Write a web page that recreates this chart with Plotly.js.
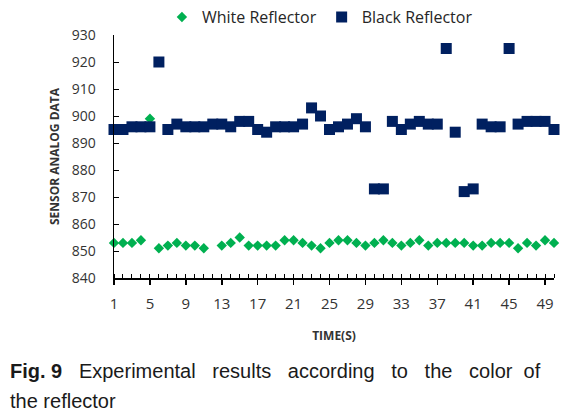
<!DOCTYPE html>
<html>
<head>
<meta charset="utf-8">
<script src="https://cdn.plot.ly/plotly-3.0.1.min.js"></script>
<style>html,body{margin:0;padding:0;background:#fff;}#chart{width:580px;height:417px;}</style>
</head>
<body>
<div id="chart"></div>
<script>
var timeSec = [1,2,3,4,5,6,7,8,9,10,11,12,13,14,15,16,17,18,19,20,21,22,23,24,25,26,27,28,29,30,31,32,33,34,35,36,37,38,39,40,41,42,43,44,45,46,47,48,49,50];
var whiteReflector = [853,853,853,854,899,851,852,853,852,852,851,null,852,853,855,852,852,852,852,854,854,853,852,851,853,854,854,853,852,853,854,853,852,853,854,852,853,853,853,853,852,852,853,853,853,851,853,852,854,853];
var blackReflector = [895,895,896,896,896,920,895,897,896,896,896,897,897,896,898,898,895,894,896,896,896,897,903,900,895,896,897,899,896,873,873,898,895,897,898,897,897,925,894,872,873,897,896,896,925,897,898,898,898,895];
var xTickVals = [1,5,9,13,17,21,25,29,33,37,41,45,49];
var yTickVals = [840,850,860,870,880,890,900,910,920,930];

var traces = [
  {x: timeSec, y: whiteReflector, name: 'White Reflector', type: 'scatter', mode: 'markers',
   marker: {symbol: 'diamond', size: 8, color: '#00B050'}, cliponaxis: false},
  {x: timeSec, y: blackReflector, name: 'Black Reflector', type: 'scatter', mode: 'markers',
   marker: {symbol: 'square', size: 11, color: '#002060'}, cliponaxis: false}
];

var layout = {
  width: 580, height: 417,
  margin: {l: 114, r: 26, t: 35, b: 139, autoexpand: false},
  paper_bgcolor: '#ffffff', plot_bgcolor: '#ffffff',
  font: {family: '"Open Sans", "Noto Sans", sans-serif', color: '#333333'},
  showlegend: true,
  legend: {orientation: 'h', x: 0.468, xanchor: 'center', yref: 'container', y: 0.959, yanchor: 'middle',
           font: {size: 16, color: '#262626'}, itemwidth: 30, bgcolor: 'rgba(0,0,0,0)'},
  xaxis: {
    range: [1, 50], showgrid: false, zeroline: false,
    showline: true, linecolor: '#000000', linewidth: 1.5,
    tickmode: 'array', tickvals: xTickVals, ticktext: xTickVals.map(String),
    ticks: 'outside', ticklen: 5, tickcolor: '#000000', tickwidth: 1.5,
    minor: {dtick: 1, tick0: 1, ticks: 'inside', ticklen: 4, tickcolor: '#000000', tickwidth: 1},
    tickfont: {size: 15, color: '#333333'}, ticklabelstandoff: 6,
    title: {text: '<b>TIME(S)</b>', font: {size: 12, color: '#333333'}, standoff: 20}
  },
  yaxis: {
    range: [840, 930], showgrid: false, zeroline: false,
    showline: true, linecolor: '#000000', linewidth: 1.5,
    tickmode: 'array', tickvals: yTickVals, ticktext: yTickVals.map(String),
    ticks: 'inside', ticklen: 5, tickcolor: '#000000', tickwidth: 1,
    tickfont: {size: 14, color: '#333333'}, ticklabelstandoff: 14,
    title: {text: '<b>SENSOR ANALOG DATA</b>', font: {size: 12, color: '#333333'}, standoff: 9}
  },
  annotations: [
    {xref: 'paper', yref: 'paper', x: -0.2405, y: -0.382, xanchor: 'left', yanchor: 'middle', showarrow: false,
     text: '<b>Fig. 9</b>   Experimental   results   according   to   the   color  of',
     font: {family: '"Liberation Sans", Arial, sans-serif', size: 20, color: '#1a1a1a'}},
    {xref: 'paper', yref: 'paper', x: -0.2405, y: -0.506, xanchor: 'left', yanchor: 'middle', showarrow: false,
     text: 'the reflector',
     font: {family: '"Liberation Sans", Arial, sans-serif', size: 20, color: '#1a1a1a'}}
  ]
};

Plotly.newPlot('chart', traces, layout, {displayModeBar: false, staticPlot: true});
</script>
</body>
</html>
